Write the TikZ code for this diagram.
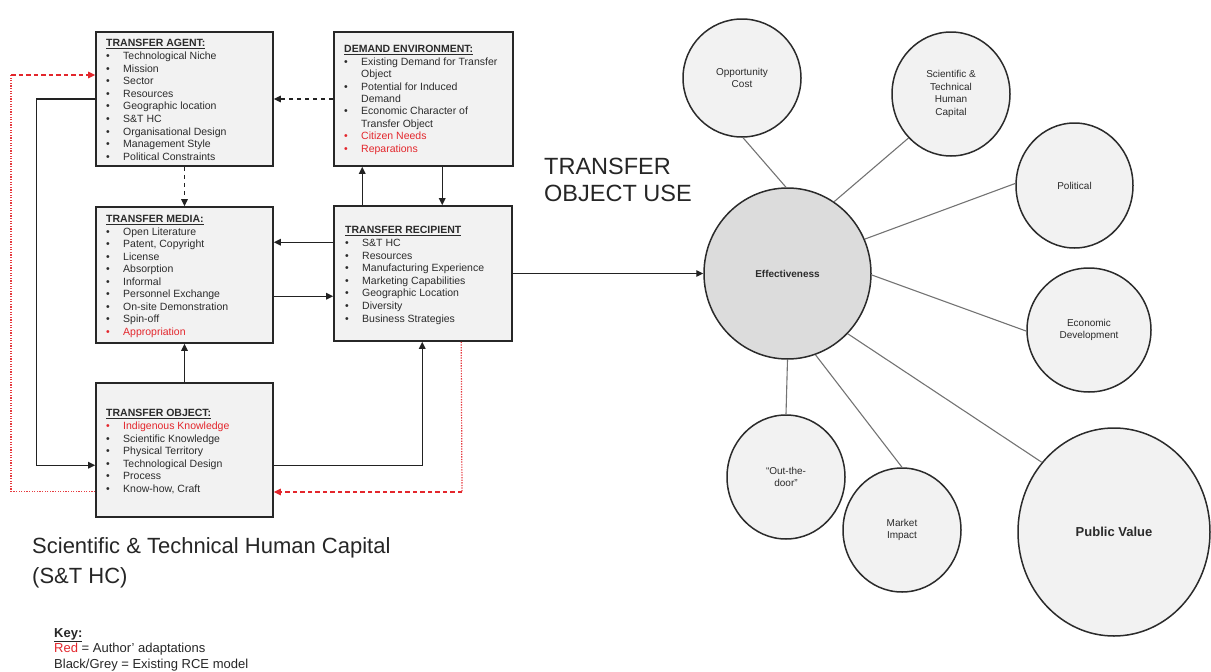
\documentclass[tikz,border=0pt]{standalone}
\usepackage{fontspec}
\setmainfont{Liberation Sans}
\usetikzlibrary{arrows.meta,shapes.geometric,calc}
\definecolor{txt}{HTML}{2B2B2B}
\definecolor{redc}{HTML}{E3262C}
\definecolor{boxfill}{HTML}{F2F2F2}
\definecolor{effill}{HTML}{DCDCDC}
\newcommand\bl[1]{\makebox[17pt][l]{\textbullet}#1}
\newcommand\rbl[1]{{\color{redc}\makebox[17pt][l]{\textbullet}#1}}
\begin{document}
\begin{tikzpicture}[x=1pt,y=-1pt,
  boxnode/.style={draw=txt!90!black,line width=1.6pt,fill=boxfill,rectangle,inner sep=0pt},
  boxtext/.style={anchor=north west,inner sep=0pt,align=left,text=txt,font=\fontsize{10.5}{12.6}\selectfont},
  arr/.style={draw=txt!80!black,line width=1.4pt,-{Triangle[length=7pt,width=6.5pt]}},
  dasharr/.style={arr,dash pattern=on 4.5pt off 3.5pt},
  rdash/.style={draw=redc,line width=1.4pt,dash pattern=on 4.5pt off 3pt,-{Triangle[length=7pt,width=6.5pt]}},
  rdot/.style={draw=redc!90,line width=1.2pt,dash pattern=on 1.3pt off 1.3pt},
  circ/.style={ellipse,draw=txt,line width=1.5pt,fill=boxfill,inner sep=0pt,align=center,text=txt,font=\fontsize{10}{12.5}\selectfont},
  spoke/.style={draw=black!55,line width=1.1pt},
  bigtext/.style={inner sep=0pt,align=left,text=black!85}
]
\useasboundingbox (0,0) rectangle (1211,672);

% boxes
\node[boxnode,minimum width=177pt,minimum height=134pt] (agent) at (184.5,99) {};
\node[boxnode,minimum width=179pt,minimum height=134pt] (dem) at (423.5,99) {};
\node[boxnode,minimum width=177pt,minimum height=136pt] (media) at (184.5,275) {};
\node[boxnode,minimum width=178pt,minimum height=135pt] (rec) at (423,273.5) {};
\node[boxnode,minimum width=177pt,minimum height=134pt] (obj) at (184.5,450) {};

% box texts
\node[boxtext] (agentt) at (106,39.3) {\underline{\textbf{TRANSFER AGENT:}}\\
\bl{Technological Niche}\\ \bl{Mission}\\ \bl{Sector}\\ \bl{Resources}\\
\bl{Geographic location}\\ \bl{S\&T HC}\\ \bl{Organisational Design}\\
\bl{Management Style}\\ \bl{Political Constraints}};
\node[boxtext,font=\fontsize{10.5}{12.4}\selectfont] (demt) at (344,45.3) {\underline{\textbf{DEMAND ENVIRONMENT:}}\\
\bl{Existing Demand for Transfer}\\ \hspace*{17pt}Object\\
\bl{Potential for Induced}\\ \hspace*{17pt}Demand\\
\bl{Economic Character of}\\ \hspace*{17pt}Transfer Object\\
\rbl{Citizen Needs}\\ \rbl{Reparations}};
\node[boxtext,font=\fontsize{10.5}{12.5}\selectfont] (mediat) at (106,215.3) {\underline{\textbf{TRANSFER MEDIA:}}\\
\bl{Open Literature}\\ \bl{Patent, Copyright}\\ \bl{License}\\ \bl{Absorption}\\
\bl{Informal}\\ \bl{Personnel Exchange}\\ \bl{On-site Demonstration}\\
\bl{Spin-off}\\ \rbl{Appropriation}};
\node[boxtext,font=\fontsize{10.5}{12.6}\selectfont] (rect) at (345,226.3) {\underline{\textbf{TRANSFER RECIPIENT}}\\
\bl{S\&T HC}\\ \bl{Resources}\\ \bl{Manufacturing Experience}\\
\bl{Marketing Capabilities}\\ \bl{Geographic Location}\\ \bl{Diversity}\\
\bl{Business Strategies}};
\node[boxtext] (objt) at (106,409.3) {\underline{\textbf{TRANSFER OBJECT:}}\\
\rbl{Indigenous Knowledge}\\ \bl{Scientific Knowledge}\\ \bl{Physical Territory}\\
\bl{Technological Design}\\ \bl{Process}\\ \bl{Know-how, Craft}};

% connectors between boxes
\draw[dasharr] (dem.west) -- (agent.east);
\draw[dasharr] (agent.south) -- (media.north);
\draw[arr] ([xshift=29pt]rec.north west) -- ([xshift=29pt]dem.south west);
\draw[arr] ([xshift=109pt]dem.south west) -- ([xshift=109pt]rec.north west);
\coordinate (r1) at ([yshift=-37pt]rec.north west);
\draw[arr] (r1) -- (r1 -| media.east);
\coordinate (m1) at ([yshift=-90pt]media.north east);
\draw[arr] (m1) -- (m1 -| rec.west);
\draw[arr] (obj.north) -- (media.south);
\coordinate (o1) at ([yshift=-83pt]obj.north east);
\draw[arr] (o1) -| ([xshift=89pt]rec.south west);
\coordinate (o2) at ([yshift=-83pt]obj.north west);
\draw[arr] (agent.west) -- ++(-59,0) |- (o2);

% red adaptations
\coordinate (o3) at ([yshift=-109pt]obj.north west);
\coordinate (lp) at (11,75);
\draw[rdot] (o3) -| (lp);
\draw[rdash] (lp) -- (lp -| agent.west);
\coordinate (r3) at ([xshift=128pt]rec.south west);
\coordinate (rp) at (462,492);
\draw[rdot] (r3) -- (rp);
\draw[rdash] (rp) -- (rp -| obj.east);

% circles
\node[circ,fill=effill,minimum width=167pt,minimum height=171pt,font=\bfseries\fontsize{10}{12}\selectfont] (eff) at (787.5,273.5) {Effectiveness};
\node[circ,minimum width=118pt,minimum height=118pt] (opp) at (742,78) {Opportunity\\Cost};
\node[circ,minimum width=118pt,minimum height=124pt] (sthc) at (951,94) {Scientific \&\\Technical\\Human\\Capital};
\node[circ,minimum width=117pt,minimum height=125pt] (pol) at (1074.5,185.5) {Political};
\node[circ,minimum width=124pt,minimum height=124pt] (econ) at (1089,330) {Economic\\Development};
\node[circ,minimum width=118pt,minimum height=124pt] (out) at (786,477) {“Out-the-\\door”};
\node[circ,minimum width=118pt,minimum height=124pt] (mkt) at (902,530) {Market\\Impact};
\node[circ,minimum width=192pt,minimum height=208pt,font=\bfseries\fontsize{13}{15}\selectfont] (pv) at (1114,532) {Public Value};

\draw[spoke] (eff.91) -- (opp.271);
\draw[spoke] (eff.57) -- (sthc.226);
\draw[spoke] (eff.24) -- (pol.178);
\draw[spoke] (eff.-1) -- (econ.181);
\draw[spoke] (eff.-90) -- (out.90);
\draw[spoke] (eff.-71) -- (mkt.90);
\draw[spoke] (eff.-45) -- (pv.136);

\draw[arr] (rec.east) -- (rec.east -| eff.west);

% free texts
\node[bigtext,anchor=west,font=\fontsize{23.5}{27}\selectfont] (tou) at (544,179.5) {TRANSFER\\OBJECT USE};
\node[bigtext,anchor=west,font=\fontsize{22}{30}\selectfont] (sthcl) at (32,563) {Scientific \& Technical Human Capital\\(S\&T HC)};
\node[anchor=north west,inner sep=0pt,align=left,text=black!85,font=\fontsize{13}{15.5}\selectfont] (key) at (54,628) {\underline{\textbf{Key:}}\\
{\color{redc}Red} = Author' adaptations\\ Black/Grey = Existing RCE model};
\end{tikzpicture}
\end{document}
